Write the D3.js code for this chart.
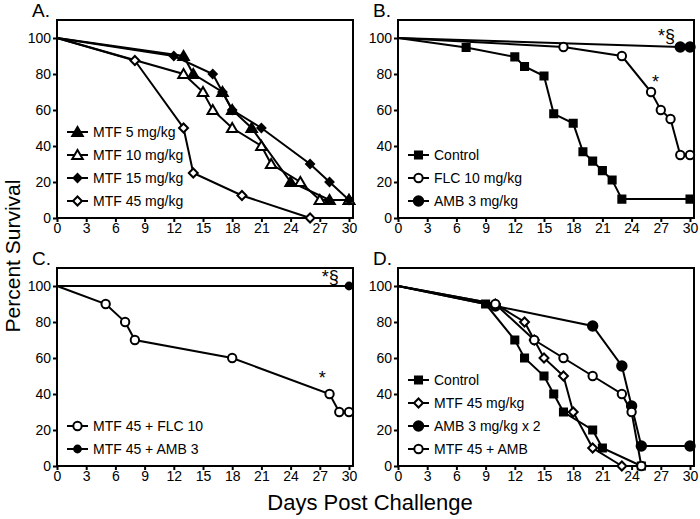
<!DOCTYPE html>
<html><head><meta charset="utf-8">
<script src="https://cdn.jsdelivr.net/npm/d3@7"></script>
<style>body{margin:0;background:#fff}svg{display:block}text{font-family:"Liberation Sans",Arial,sans-serif}</style>
</head><body><svg id="c" width="700" height="519"></svg>
<script>
const xTicks=[0,3,6,9,12,15,18,21,24,27,30];
const yTicks=[0,20,40,60,80,100];
// Panel A
const aNames=["MTF 5 mg/kg","MTF 10 mg/kg","MTF 15 mg/kg","MTF 45 mg/kg"];
const aMTF5=[[0,100],[13,90],[14,80],[17,70],[18,60],[20,50],[24,20],[28,10],[30,10]];
const aMTF10=[[0,100],[13,80],[15,70],[16,60],[18,50],[21,40],[22,30],[25,20],[27,10],[30,10]];
const aMTF15=[[0,100],[12,90],[16,80],[17,70],[18,60],[21,50],[26,30],[28,20],[30,10]];
const aMTF45=[[0,100],[8,87.5],[13,50],[14,25],[19,12.5],[26,0]];
// Panel B
const bNames=["Control","FLC 10 mg/kg","AMB 3 mg/kg"];
const bControl=[[0,100],[7,94.7],[12,89.5],[13,84.2],[15,78.9],[16,57.9],[18,52.6],[19,36.8],[20,31.6],[21,26.3],[22,21.1],[23,10.5],[30,10.5]];
const bFLC=[[0,100],[17,95],[23,90],[26,70],[27,60],[28,55],[29,35],[30,35]];
const bAMB=[[0,100],[29,95],[30,95]];
// Panel C
const cNames=["MTF 45 + FLC 10","MTF 45 + AMB 3"];
const cFLC=[[0,100],[5,90],[7,80],[8,70],[18,60],[28,40],[29,30],[30,30]];
const cAMB=[[0,100],[30,100]];
// Panel D
const dNames=["Control","MTF 45 mg/kg","AMB 3 mg/kg x 2","MTF 45 + AMB"];
const dControl=[[0,100],[9,90],[12,70],[13,60],[15,50],[16,40],[17,30],[20,20],[21,10],[25,0]];
const dMTF45=[[0,100],[10,90],[13,80],[14,70],[15,60],[17,50],[18,30],[20,10],[23,0]];
const dAMB2=[[0,100],[10,88.9],[20,77.8],[23,55.6],[24,33.3],[25,11.1],[30,11.1]];
const dCombo=[[0,100],[10,90],[14,70],[17,60],[20,50],[23,40],[24,30],[25,0]];

const svg=d3.select("#c");
const panels=[
 {label:"A.",left:57,top:20,series:[
   {name:aNames[0],data:aMTF5,shape:"tri",fill:"#000",size:48},
   {name:aNames[1],data:aMTF10,shape:"tri",fill:"#fff",size:48},
   {name:aNames[2],data:aMTF15,shape:"dia",fill:"#000",size:32},
   {name:aNames[3],data:aMTF45,shape:"dia",fill:"#fff",size:40}],notes:[]},
 {label:"B.",left:398,top:20,series:[
   {name:bNames[0],data:bControl,shape:"sq",fill:"#000",size:50},
   {name:bNames[1],data:bFLC,shape:"ci",fill:"#fff",size:55},
   {name:bNames[2],data:bAMB,shape:"ci",fill:"#000",size:70}],
   notes:[{t:"*§",x:26.7,y:98},{t:"*",x:26.1,y:72}]},
 {label:"C.",left:57,top:268,series:[
   {name:cNames[0],data:cFLC,shape:"ci",fill:"#fff",size:55},
   {name:cNames[1],data:cAMB,shape:"ci",fill:"#000",size:36}],
   notes:[{t:"*§",x:27.2,y:101.5},{t:"*",x:26.9,y:45.5}]},
 {label:"D.",left:398,top:268,series:[
   {name:dNames[0],data:dControl,shape:"sq",fill:"#000",size:50},
   {name:dNames[1],data:dMTF45,shape:"dia",fill:"#fff",size:40},
   {name:dNames[2],data:dAMB2,shape:"ci",fill:"#000",size:70},
   {name:dNames[3],data:dCombo,shape:"ci",fill:"#fff",size:55}],notes:[]}
];
const shapes={tri:d3.symbolTriangle,dia:d3.symbolSquare,sq:d3.symbolSquare,ci:d3.symbolCircle};
function marker(sel,s,tx,ty){
  return sel.attr("d",d3.symbol().type(shapes[s.shape]).size(s.size))
    .attr("transform",d=>`translate(${tx(d)},${ty(d)})`+(s.shape==="dia"?" rotate(45)":"")+(s.shape==="tri"?" translate(0,1)":""))
    .attr("fill",s.fill).attr("stroke","#000").attr("stroke-width",2);
}
const W=292,H=198;
panels.forEach(p=>{
  const x=d3.scaleLinear().domain([0,30]).range([p.left,p.left+W]);
  const y=d3.scaleLinear().domain([0,110]).range([p.top+H,p.top]);
  const g=svg.append("g");
  g.append("rect").attr("x",p.left).attr("y",p.top).attr("width",W+4).attr("height",H)
    .attr("fill","none").attr("stroke","#000").attr("stroke-width",2);
  const ax=g.append("g").attr("transform",`translate(0,${p.top+H})`)
    .call(d3.axisBottom(x).tickValues(xTicks).tickSize(4).tickPadding(1).tickSizeOuter(0));
  const ay=g.append("g").attr("transform",`translate(${p.left},0)`)
    .call(d3.axisLeft(y).tickValues(yTicks).tickSize(4).tickPadding(2).tickSizeOuter(0));
  [ax,ay].forEach(a=>{a.select(".domain").remove();a.selectAll("line").attr("stroke-width",2);
    a.selectAll("text").attr("font-size",14).attr("fill","#000").style("font-family","Liberation Sans, Arial, sans-serif");});
  g.append("text").attr("x",p.left-25).attr("y",p.top-3).attr("font-size",19).text(p.label);
  const line=d3.line().x(d=>x(d[0])).y(d=>y(d[1]));
  p.series.forEach(s=>{
    g.append("path").attr("d",line(s.data)).attr("fill","none").attr("stroke","#000").attr("stroke-width",2);
  });
  p.series.forEach(s=>{
    marker(g.selectAll(null).data(s.data.filter(d=>d[0]>0)).enter().append("path"),s,d=>x(d[0]),d=>y(d[1]));
  });
  const n=p.series.length;
  p.series.forEach((s,i)=>{
    const ly=p.top+181-(n-1-i)*23;
    g.append("line").attr("x1",p.left+10).attr("x2",p.left+31).attr("y1",ly).attr("y2",ly)
      .attr("stroke","#000").attr("stroke-width",2);
    marker(g.selectAll(null).data([0]).enter().append("path"),s,()=>p.left+20.5,()=>ly);
    g.append("text").attr("x",p.left+36).attr("y",ly).attr("dy","0.36em").attr("font-size",14).text(s.name);
  });
  p.notes.forEach(nt=>{
    g.append("text").attr("x",x(nt.x)).attr("y",y(nt.y)).attr("font-size",18).text(nt.t);
  });
});
svg.append("text").attr("transform","translate(20,256) rotate(-90)").attr("text-anchor","middle")
  .attr("font-size",21).text("Percent Survival");
svg.append("text").attr("x",370).attr("y",510).attr("text-anchor","middle")
  .attr("font-size",22).text("Days Post Challenge");
</script></body></html>
